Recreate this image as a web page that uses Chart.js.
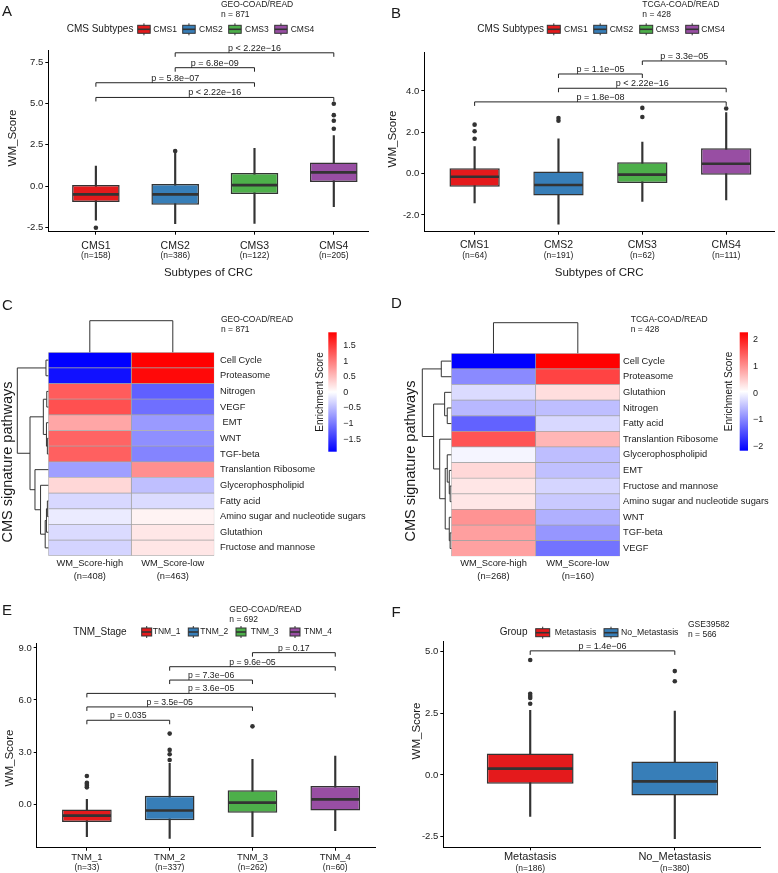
<!DOCTYPE html>
<html lang="en">
<head>
<meta charset="UTF-8">
<title>WM_Score across CRC cohorts</title>
<script src="https://cdn.jsdelivr.net/npm/chart.js"></script>
<style>
  body { margin: 0; background: #ffffff; }
  #fig { position: relative; width: 778px; height: 873px; }
  #fig canvas { position: absolute; left: 0; top: 0; }
</style>
</head>
<body>
<div id="fig">
  <canvas id="chartA" width="778" height="873"></canvas>
  <canvas id="chartB" width="778" height="873"></canvas>
  <canvas id="chartC" width="778" height="873"></canvas>
  <canvas id="chartD" width="778" height="873"></canvas>
  <canvas id="chartE" width="778" height="873"></canvas>
  <canvas id="chartF" width="778" height="873"></canvas>
</div>
<script>
// ---------------- data ----------------
// A: GEO-COAD/READ, WM_Score by CMS subtype
const cmsGroups = ['CMS1', 'CMS2', 'CMS3', 'CMS4'];
const cmsColors = ['#E41A1C', '#377EB8', '#4DAF4A', '#984EA3'];
const nA = ['(n=158)', '(n=386)', '(n=122)', '(n=205)'];
const loA = [-2.06, -2.28, -2.26, -1.25];
const q1A = [-0.97, -1.13, -0.48, 0.24];
const medA = [-0.5, -0.5, 0.06, 0.83];
const q3A = [0.06, 0.12, 0.79, 1.43];
const hiA = [1.21, 2.0, 2.28, 3.06];
const outA = [[-2.52], [2.12], [], [3.47, 3.95, 4.29, 4.98]];
const ticksA = [-2.5, 0, 2.5, 5, 7.5];
const pairsA = [[0, 3, 5.36, 'p < 2.22e\u221216'], [0, 2, 6.25, 'p = 5.8e\u221207'],
                [1, 2, 7.16, 'p = 6.8e\u221209'], [1, 3, 8.06, 'p < 2.22e\u221216']];
const noteA = ['GEO-COAD/READ', 'n = 871'];

// B: TCGA-COAD/READ, WM_Score by CMS subtype
const nB = ['(n=64)', '(n=191)', '(n=62)', '(n=111)'];
const loB = [-1.42, -2.44, -1.34, -1.27];
const q1B = [-0.63, -1.06, -0.45, -0.05];
const medB = [-0.15, -0.55, -0.05, 0.48];
const q3B = [0.26, 0.1, 0.55, 1.23];
const hiB = [1.31, 1.68, 1.52, 2.95];
const outB = [[1.69, 2.05, 2.37], [2.56, 2.69], [2.74, 3.18], [3.15]];
const ticksB = [-2, 0, 2, 4];
const pairsB = [[0, 3, 3.47, 'p = 1.8e\u221208'], [1, 3, 4.13, 'p < 2.22e\u221216'],
                [1, 2, 4.82, 'p = 1.1e\u221205'], [2, 3, 5.45, 'p = 3.3e\u221205']];
const noteB = ['TCGA-COAD/READ', 'n = 428'];

// C / D: enrichment heatmaps
const colNames = ['WM_Score-high', 'WM_Score-low'];
const pathwaysC = ['Cell Cycle', 'Proteasome', 'Nitrogen', 'VEGF', ' EMT', 'WNT', 'TGF-beta',
  'Translantion Ribosome', 'Glycerophospholipid', 'Fatty acid',
  'Amino sugar and nucleotide sugars', 'Glutathion', 'Fructose and mannose'];
const highC = [-1.9, -1.77, 1.23, 1.32, 0.68, 1.17, 1.2, -0.71, 0.31, -0.28, -0.14, -0.26, -0.31];
const lowC = [1.92, 1.85, -1.18, -1.07, -0.75, -0.83, -0.91, 0.85, -0.47, -0.26, 0.1, 0.19, 0.2];
const nC = ['(n=408)', '(n=463)'];
const rangeC = [-1.9, 1.92];
const keyTicksC = [1.5, 1, 0.5, 0, -0.5, -1, -1.5];
// row clustering: [left, right, height], leaves are row indices
const treeC = [[0, 1, 0.075],
  [[[2, 3, 0.05], [4, [5, 6, 0.03], 0.06], 0.16],
   [7, [8, [[[9, 10, 0.03], 11, 0.06], 12, 0.1], 0.25], 0.43], 0.59], 1.0];
const noteC = ['GEO-COAD/READ', 'n = 871'];

const pathwaysD = ['Cell Cycle', 'Proteasome', 'Glutathion', 'Nitrogen', 'Fatty acid',
  'Translantion Ribosome', 'Glycerophospholipid', 'EMT', 'Fructose and mannose',
  'Amino sugar and nucleotide sugars', 'WNT', 'TGF-beta', 'VEGF'];
const highD = [-2.15, -0.95, -0.25, -0.55, -1.3, 1.55, -0.02, 0.4, 0.28, 0.28, 1.0, 0.9, 0.88];
const lowD = [2.28, 1.7, 0.35, -0.5, -0.27, 0.7, -0.5, -0.48, -0.3, -0.4, -0.62, -0.85, -1.15];
const nD = ['(n=268)', '(n=160)'];
const rangeD = [-2.15, 2.28];
const keyTicksD = [2, 1, 0, -1, -2];
const treeD = [[0, 1, 0.345],
  [[2, [3, 4, 0.14], 0.23],
   [5, [[6, [7, [8, 9, 0.04], 0.07], 0.14], [10, [11, 12, 0.04], 0.07], 0.21], 0.4], 0.61], 1.0];
const noteD = ['TCGA-COAD/READ', 'n = 428'];

// E: GEO-COAD/READ, WM_Score by TNM stage
const tnmGroups = ['TNM_1', 'TNM_2', 'TNM_3', 'TNM_4'];
const nE = ['(n=33)', '(n=337)', '(n=262)', '(n=60)'];
const loE = [-1.88, -1.98, -1.88, -1.54];
const q1E = [-1.04, -0.94, -0.5, -0.38];
const medE = [-0.67, -0.37, 0.08, 0.27];
const q3E = [-0.31, 0.48, 0.79, 1.04];
const hiE = [0.27, 2.35, 2.58, 2.77];
const outE = [[0.96, 1.06, 1.15, 1.23, 1.62], [2.54, 2.87, 3.12, 4.06], [4.48], []];
const ticksE = [0, 3, 6, 9];
const pairsE = [[0, 1, 4.83, 'p = 0.035'], [0, 2, 5.6, 'p = 3.5e\u221205'], [0, 3, 6.38, 'p = 3.6e\u221205'],
                [1, 2, 7.15, 'p = 7.3e\u221206'], [1, 3, 7.92, 'p = 9.6e\u221205'], [2, 3, 8.73, 'p = 0.17']];
const noteE = ['GEO-COAD/READ', 'n = 692'];

// F: GSE39582, metastasis vs no metastasis
const grpGroups = ['Metastasis', 'No_Metastasis'];
const grpColors = ['#E41A1C', '#377EB8'];
const nF = ['(n=186)', '(n=380)'];
const loF = [-1.68, -2.58];
const q1F = [-0.35, -0.83];
const medF = [0.26, -0.26];
const q3F = [0.87, 0.55];
const hiF = [2.62, 2.59];
const outF = [[2.89, 3.12, 3.2, 3.29, 4.66], [3.8, 4.21]];
const ticksF = [-2.5, 0, 2.5, 5];
const pairsF = [[0, 1, 5.03, 'p = 1.4e\u221206']];
const noteF = ['GSE39582', 'n = 566'];

// ---------------- helpers ----------------
const W = 778, H = 873;
const FONT = '"Liberation Sans", Arial, Helvetica, sans-serif';
const INK = '#1a1a1a';
Chart.defaults.font.family = FONT;
Chart.defaults.color = INK;

function text(ctx, str, x, y, size, align, baseline) {
  ctx.font = size + 'px ' + FONT;
  ctx.textAlign = align || 'left';
  ctx.textBaseline = baseline || 'alphabetic';
  ctx.fillStyle = INK;
  ctx.fillText(str, x, y);
}
function vtext(ctx, str, x, y, size) {
  ctx.save();
  ctx.translate(x, y);
  ctx.rotate(-Math.PI / 2);
  text(ctx, str, 0, 0, size, 'center', 'middle');
  ctx.restore();
}
function heatColor(v, range) {
  let t = (v - range[0]) / (range[1] - range[0]);
  t = Math.max(0, Math.min(1, t));
  if (t < 0.5) {
    const c = Math.round(255 * t * 2);
    return 'rgb(' + c + ',' + c + ',255)';
  }
  const c = Math.round(255 * (1 - (t - 0.5) * 2));
  return 'rgb(255,' + c + ',' + c + ')';
}
function drawTree(ctx, node, yOf, xOf) {
  if (typeof node === 'number') return { x: xOf(0), y: yOf(node) };
  const a = drawTree(ctx, node[0], yOf, xOf);
  const b = drawTree(ctx, node[1], yOf, xOf);
  const x = xOf(node[2]);
  ctx.moveTo(a.x, a.y); ctx.lineTo(x, a.y); ctx.lineTo(x, b.y); ctx.lineTo(b.x, b.y);
  return { x, y: (a.y + b.y) / 2 };
}
function drawNote(ctx, lines, L) {
  text(ctx, L.letter[0], L.letter[1], L.letter[2], 15);
  lines.forEach((s, i) => text(ctx, s, L.note[0], L.note[1] + i * 9.8, 8.5));
}
function drawLegend(ctx, labels, colors, lg) {
  text(ctx, lg.title, lg.tx, lg.y, 10, 'left', 'middle');
  labels.forEach((lab, i) => {
    const x = lg.keyX[i], w = lg.keyW, yc = lg.y;
    ctx.strokeStyle = '#333'; ctx.lineWidth = 1;
    ctx.beginPath(); ctx.moveTo(x + w / 2, yc - 6); ctx.lineTo(x + w / 2, yc + 6); ctx.stroke();
    ctx.fillStyle = colors[i];
    ctx.fillRect(x, yc - 4, w, 8);
    ctx.strokeRect(x, yc - 4, w, 8);
    ctx.lineWidth = 1.6;
    ctx.beginPath(); ctx.moveTo(x, yc); ctx.lineTo(x + w, yc); ctx.stroke();
    text(ctx, lab, lg.labX[i], yc, lg.size || 8.5, 'left', 'middle');
  });
}

// medians, p-value brackets, category labels, titles and legend of a box panel
function boxDecor(d, L) {
  return {
    id: 'boxDecor',
    afterDraw(chart) {
      const ctx = chart.ctx, xs = chart.scales.x, ys = chart.scales.y, a = chart.chartArea;
      ctx.save();
      ctx.strokeStyle = '#333'; ctx.lineWidth = 2.6;
      chart.getDatasetMeta(1).data.forEach((bar, i) => {
        const y = ys.getPixelForValue(d.med[i]);
        const half = bar.width / 2 - 0.75;
        ctx.beginPath(); ctx.moveTo(bar.x - half, y); ctx.lineTo(bar.x + half, y); ctx.stroke();
      });
      ctx.strokeStyle = '#222'; ctx.lineWidth = 1;
      d.pairs.forEach(([g1, g2, v, lab]) => {
        const x1 = xs.getPixelForValue(g1 + 1), x2 = xs.getPixelForValue(g2 + 1);
        const y = ys.getPixelForValue(v);
        ctx.beginPath();
        ctx.moveTo(x1, y + 4); ctx.lineTo(x1, y); ctx.lineTo(x2, y); ctx.lineTo(x2, y + 4);
        ctx.stroke();
        text(ctx, lab, (x1 + x2) / 2, y - 2, L.pSize || 9, 'center');
      });
      d.groups.forEach((g, i) => {
        const x = xs.getPixelForValue(i + 1);
        text(ctx, g, x, L.catY, L.catSize || 10.5, 'center', 'middle');
        text(ctx, d.n[i], x, L.nY, 8.5, 'center', 'middle');
      });
      if (L.xTitle) text(ctx, L.xTitle, (a.left + a.right) / 2, L.xTitleY, 11.5, 'center', 'middle');
      vtext(ctx, 'WM_Score', L.yTitle[0], L.yTitle[1], 11.5);
      drawLegend(ctx, d.groups, d.colors, L.legend);
      drawNote(ctx, d.note, L);
      ctx.restore();
    }
  };
}

function boxPanel(id, d, L) {
  const xs = d.groups.map((g, i) => i + 1);
  const outPts = [];
  d.out.forEach((vals, i) => vals.forEach(v => outPts.push({ x: i + 1, y: v })));
  const axisGrid = { display: true, drawOnChartArea: false, drawTicks: true, tickLength: 3,
                     color: '#000', lineWidth: 1, offset: false };
  const axisBorder = { display: true, color: '#000', width: 1 };
  const yW = 30;   // room for the y tick labels (labels are clipped to the scale box)
  return new Chart(document.getElementById(id), {
    type: 'bar',
    data: {
      datasets: [
        { label: 'whisker', data: xs.map((x, i) => ({ x, y: [d.lo[i], d.hi[i]] })),
          backgroundColor: '#333333', barThickness: 1.5, grouped: false, order: 3 },
        { label: 'box', data: xs.map((x, i) => ({ x, y: [d.q1[i], d.q3[i]] })),
          backgroundColor: d.colors, borderColor: '#333333', borderWidth: 1.5, borderSkipped: false,
          barPercentage: 0.6, categoryPercentage: 1, grouped: false, order: 2 },
        { type: 'scatter', label: 'outlier', data: outPts, backgroundColor: '#333333',
          pointRadius: 2.3, pointBorderWidth: 0, order: 1 }
      ]
    },
    options: {
      responsive: false, animation: false, events: [],
      layout: { padding: { left: L.area[0] - yW, top: L.area[1], right: W - L.area[2], bottom: H - L.area[3] } },
      plugins: { legend: { display: false }, tooltip: { enabled: false } },
      scales: {
        x: { type: 'linear', min: L.x[0], max: L.x[1], offset: false,
             afterFit: s => { s.height = 0; },
             afterBuildTicks: s => { s.ticks = xs.map(v => ({ value: v })); },
             ticks: { display: false }, grid: axisGrid, border: axisBorder },
        y: { type: 'linear', min: L.y[0], max: L.y[1],
             afterFit: s => { s.width = yW; },
             afterBuildTicks: s => { s.ticks = d.ticks.map(v => ({ value: v })); },
             ticks: { callback: v => v.toFixed(1), font: { size: 9.5 }, color: INK, padding: 2 },
             grid: axisGrid, border: axisBorder }
      }
    },
    plugins: [boxDecor(d, L)]
  });
}

// dendrograms, colour key and titles of a heatmap panel
function heatDecor(d, L) {
  return {
    id: 'heatDecor',
    afterDraw(chart) {
      const ctx = chart.ctx, a = chart.chartArea, xs = chart.scales.x, ys = chart.scales.y;
      ctx.save();
      ctx.strokeStyle = '#333'; ctx.lineWidth = 1;
      ctx.beginPath();
      drawTree(ctx, d.tree, i => ys.getPixelForValue(i), h => a.left - h * L.treeW);
      const c0 = xs.getPixelForValue(0.5), c1 = xs.getPixelForValue(1.5);
      ctx.moveTo(c0, a.top); ctx.lineTo(c0, L.colTop); ctx.lineTo(c1, L.colTop); ctx.lineTo(c1, a.top);
      ctx.stroke();
      const cb = L.cbar, lo = d.range[0], hi = d.range[1];
      const g = ctx.createLinearGradient(0, cb.top, 0, cb.bottom);
      for (let k = 0; k <= 40; k++) g.addColorStop(k / 40, heatColor(hi - k / 40 * (hi - lo), d.range));
      ctx.fillStyle = g;
      ctx.fillRect(cb.x, cb.top, cb.w, cb.bottom - cb.top);
      d.keyTicks.forEach(t => {
        const y = cb.top + (hi - t) / (hi - lo) * (cb.bottom - cb.top);
        text(ctx, String(t).replace('-', '\u2212'), cb.labX, y, 9, 'left', 'middle');
      });
      vtext(ctx, 'Enrichment Score', cb.titleX, (cb.top + cb.bottom) / 2, 10);
      vtext(ctx, 'CMS signature pathways', L.yTitle[0], L.yTitle[1], 14.5);
      drawNote(ctx, d.note, L);
      ctx.restore();
    }
  };
}

function heatPanel(id, d, L) {
  const cell = { borderColor: '#a3a3a3', borderWidth: 0.7, borderSkipped: false,
                 barPercentage: 1, categoryPercentage: 1, grouped: false };
  const rowW = W - L.area[2] - 1, colH = 30;   // label boxes for the two axes
  return new Chart(document.getElementById(id), {
    type: 'bar',
    data: {
      labels: d.rows,
      datasets: [
        Object.assign({ label: colNames[0], data: d.rows.map(() => [0, 1]),
                        backgroundColor: d.high.map(v => heatColor(v, d.range)) }, cell),
        Object.assign({ label: colNames[1], data: d.rows.map(() => [1, 2]),
                        backgroundColor: d.low.map(v => heatColor(v, d.range)) }, cell)
      ]
    },
    options: {
      indexAxis: 'y', responsive: false, animation: false, events: [],
      layout: { padding: { left: L.area[0], top: L.area[1], right: 1, bottom: H - L.area[3] - colH } },
      plugins: { legend: { display: false }, tooltip: { enabled: false } },
      scales: {
        x: { type: 'linear', min: 0, max: 2, offset: false,
             afterFit: s => { s.height = colH; },
             afterBuildTicks: s => { s.ticks = [{ value: 0.5 }, { value: 1.5 }]; },
             ticks: { autoSkip: false, maxRotation: 0, padding: 1, color: INK,
                      font: { size: 9.3, lineHeight: 1.4 },
                      callback: (v, i) => [colNames[i], d.colN[i]] },
             grid: { display: false, drawTicks: false }, border: { display: false } },
        y: { type: 'category', position: 'right', offset: true,
             afterFit: s => { s.width = rowW; },
             ticks: { autoSkip: false, padding: L.rowPad, font: { size: 9.3 }, color: INK },
             grid: { display: false, drawTicks: false }, border: { display: false } }
      }
    },
    plugins: [heatDecor(d, L)]
  });
}

// ---------------- panels ----------------
boxPanel('chartA',
  { groups: cmsGroups, colors: cmsColors, n: nA, lo: loA, q1: q1A, med: medA, q3: q3A, hi: hiA,
    out: outA, ticks: ticksA, pairs: pairsA, note: noteA },
  { area: [48.3, 50, 368.3, 231.7], x: [0.4, 4.435], y: [-2.76, 8.23],
    catY: 245.7, nY: 255.7, xTitle: 'Subtypes of CRC', xTitleY: 273, yTitle: [12.7, 138],
    letter: ['A', 2, 16], note: [221, 6.8],
    legend: { title: 'CMS Subtypes', tx: 66.7, y: 29.3, keyW: 12.5,
              keyX: [137.7, 182.7, 228.7, 274.7], labX: [153.3, 199, 245, 290.7] } });

boxPanel('chartB',
  { groups: cmsGroups, colors: cmsColors, n: nB, lo: loB, q1: q1B, med: medB, q3: q3B, hi: hiB,
    out: outB, ticks: ticksB, pairs: pairsB, note: noteB },
  { area: [424.3, 52.7, 775, 231.7], x: [0.4, 4.57], y: [-2.81, 5.85],
    catY: 245, nY: 256, xTitle: 'Subtypes of CRC', xTitleY: 273, yTitle: [393, 139],
    letter: ['B', 391, 18], note: [642.3, 6.8],
    legend: { title: 'CMS Subtypes', tx: 477.3, y: 29.3, keyW: 13,
              keyX: [547.3, 593.7, 639.7, 685.7], labX: [564, 609.7, 655.7, 701.3] } });

heatPanel('chartC',
  { rows: pathwaysC, high: highC, low: lowC, colN: nC, range: rangeC, keyTicks: keyTicksC,
    tree: treeC, note: noteC },
  { area: [48.3, 352.3, 214.3, 555.7], rowPad: 5.7, treeW: 31, colTop: 320.7,
    cbar: { x: 328.3, w: 8.4, top: 332.3, bottom: 451.7, labX: 343.3, titleX: 320 },
    yTitle: [8, 462], letter: ['C', 2, 310], note: [221, 321.7] });

heatPanel('chartD',
  { rows: pathwaysD, high: highD, low: lowD, colN: nD, range: rangeD, keyTicks: keyTicksD,
    tree: treeD, note: noteD },
  { area: [451.3, 353.3, 620, 556.3], rowPad: 3, treeW: 29, colTop: 322.7,
    cbar: { x: 739.7, w: 8.3, top: 332.3, bottom: 450.7, labX: 753, titleX: 729.7 },
    yTitle: [410.5, 461], letter: ['D', 391, 308.3], note: [630.7, 321.7] });

boxPanel('chartE',
  { groups: tnmGroups, colors: cmsColors, n: nE, lo: loE, q1: q1E, med: medE, q3: q3E, hi: hiE,
    out: outE, ticks: ticksE, pairs: pairsE, note: noteE },
  { area: [36.7, 643.3, 375, 847.7], x: [0.394, 4.48], y: [-2.52, 9.27],
    catY: 857.3, nY: 867.7, catSize: 9.5, pSize: 8.7, yTitle: [10, 758],
    letter: ['E', 2, 615], note: [229.3, 612.3],
    legend: { title: 'TNM_Stage', tx: 73.3, y: 632, keyW: 10,
              keyX: [141.7, 188.3, 236, 290], labX: [152.7, 200.3, 250.7, 304] } });

boxPanel('chartF',
  { groups: grpGroups, colors: grpColors, n: nF, lo: loF, q1: q1F, med: medF, q3: q3F, hi: hiF,
    out: outF, ticks: ticksF, pairs: pairsF, note: noteF },
  { area: [443.3, 641, 760.7, 847.3], x: [0.399, 2.594], y: [-2.93, 5.43],
    catY: 857.3, nY: 868.3, catSize: 11, yTitle: [417, 731],
    letter: ['F', 391.5, 616.7], note: [688, 627.3],
    legend: { title: 'Group', tx: 499.7, y: 632.7, keyW: 14, size: 8.7,
              keyX: [535.7, 604], labX: [554.7, 621] } });
</script>
</body>
</html>
